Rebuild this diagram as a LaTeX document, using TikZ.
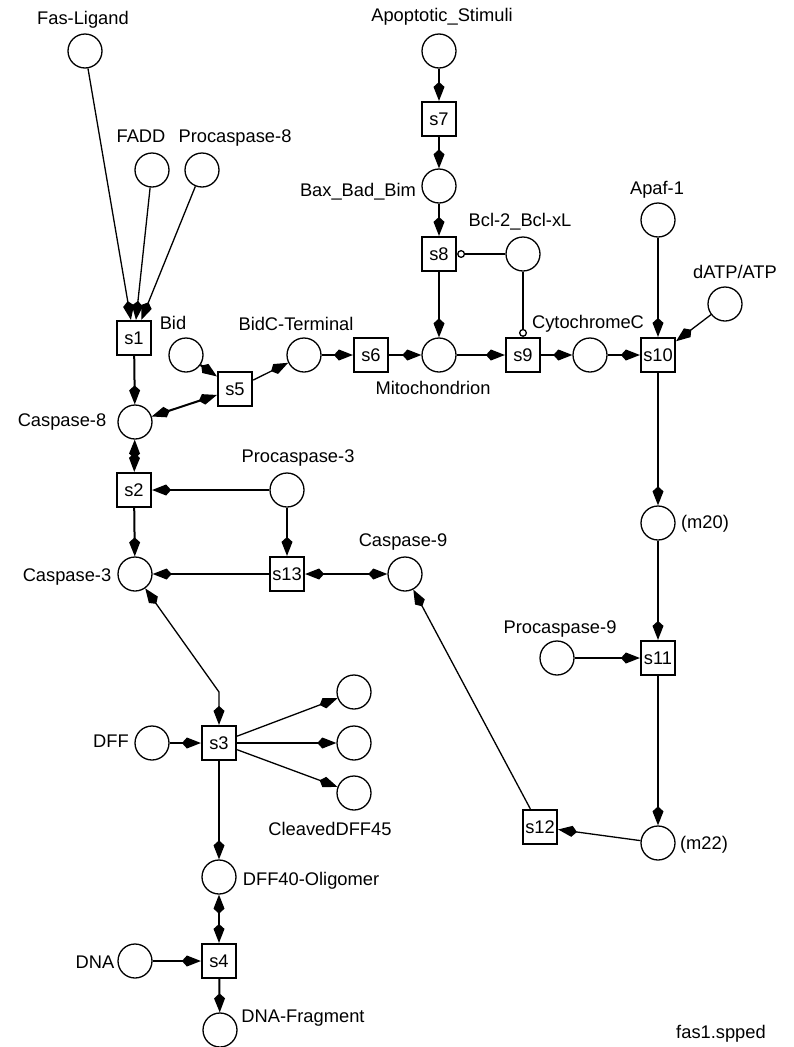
\documentclass[tikz,border=0pt]{standalone}
\usepackage{fontspec}
\setmainfont{Liberation Sans}
\usetikzlibrary{arrows.meta}
\begin{document}
\begin{tikzpicture}[x=1pt,y=-1pt,
 font=\fontsize{18.3}{21}\selectfont,
 place/.style={circle,draw,line width=1.3pt,minimum size=34pt,inner sep=0pt},
 trans/.style={rectangle,draw,line width=2.2pt,minimum size=34pt,inner sep=0pt},
 lbl/.style={inner sep=0pt,anchor=base},
 tk/.style={line width=2pt},
 tn/.style={line width=1.3pt},
 tip/.tip={Kite[length=19pt,width=11pt,inset=5pt]},
 arr/.style={-tip},
 barr/.style={tip-tip},
 inh/.style={line width=1.8pt,-{Circle[open,length=8pt,width=8pt,line width=1.3pt]}},
]
\useasboundingbox (0,0) rectangle (794,1047);

% places
\node[place] (fasl) at (85,51) {};
\node[place] (fadd) at (152,170) {};
\node[place] (pc8) at (202,170) {};
\node[place] (bid) at (186,355) {};
\node[place] (bidc) at (304,355) {};
\node[place] (mito) at (439,355) {};
\node[place] (cytc) at (590,355) {};
\node[place] (apaf) at (658,220) {};
\node[place] (datp) at (725,304) {};
\node[place] (apst) at (439,51) {};
\node[place] (bax) at (439,186) {};
\node[place] (bcl) at (523,254) {};
\node[place] (c8) at (135,422) {};
\node[place] (pc3) at (287,490) {};
\node[place] (c3) at (135,574) {};
\node[place] (c9) at (405,574) {};
\node[place] (dff) at (152,743) {};
\node[place] (o1) at (354,692) {};
\node[place] (o2) at (354,743) {};
\node[place] (o3) at (354,793) {};
\node[place] (dff40) at (219,877) {};
\node[place] (dna) at (135,961) {};
\node[place] (dnaf) at (220,1030) {};
\node[place] (m20) at (658,523) {};
\node[place] (pc9) at (557,658) {};
\node[place] (m22) at (658,843) {};

% transitions
\node[trans] (s1) at (134,338) {s1};
\node[trans] (s2) at (134,490) {s2};
\node[trans] (s3) at (219,743) {s3};
\node[trans] (s4) at (219,961) {s4};
\node[trans] (s5) at (235,389) {s5};
\node[trans] (s6) at (371,355) {s6};
\node[trans] (s7) at (439,119) {s7};
\node[trans] (s8) at (439,254) {s8};
\node[trans] (s9) at (523,355) {s9};
\node[trans] (s10) at (658,355) {s10};
\node[trans] (s11) at (658,658) {s11};
\node[trans] (s12) at (540,827) {s12};
\node[trans] (s13) at (287,574) {s13};
\coordinate (bend) at (219,692);

% labels
\node[lbl] (tfasl) at (83,24) {Fas-Ligand};
\node[lbl] (tfadd) at (141,142) {FADD};
\node[lbl] (tpc8) at (235,142) {Procaspase-8};
\node[lbl] (tapst) at (442,21) {Apoptotic\_Stimuli};
\node[lbl] (tbax) at (358,196) {Bax\_Bad\_Bim};
\node[lbl] (tbcl) at (520,226) {Bcl-2\_Bcl-xL};
\node[lbl] (tapaf) at (657,194) {Apaf-1};
\node[lbl] (tdatp) at (735,278) {dATP/ATP};
\node[lbl] (tbid) at (173,329) {Bid};
\node[lbl] (tbidc) at (296,330) {BidC-Terminal};
\node[lbl] (tmito) at (433,394) {Mitochondrion};
\node[lbl] (tcytc) at (588,328) {CytochromeC};
\node[lbl] (tc8) at (62,426) {Caspase-8};
\node[lbl] (tpc3) at (298,462) {Procaspase-3};
\node[lbl] (tc3) at (67,581) {Caspase-3};
\node[lbl] (tc9) at (403,546) {Caspase-9};
\node[lbl] (tdff) at (111,747) {DFF};
\node[lbl] (tcl) at (330,835) {CleavedDFF45};
\node[lbl] (tdff40) at (311,885) {DFF40-Oligomer};
\node[lbl] (tdna) at (95,968) {DNA};
\node[lbl] (tdnaf) at (303,1022) {DNA-Fragment};
\node[lbl] (tm20) at (705,528) {(m20)};
\node[lbl] (tpc9) at (560,633) {Procaspase-9};
\node[lbl] (tm22) at (704,849) {(m22)};
\node[lbl] (tfile) at (721,1038) {fas1.spped};

% arcs
\draw[tn,arr] (fasl) -- (s1);
\draw[tn,arr] (fadd) -- (s1);
\draw[tn,arr] (pc8) -- (s1);
\draw[tk,arr] (s1) -- (c8);
\draw[tk,arr] (bid) -- (s5);
\draw[tk,barr] (c8) -- (s5);
\draw[tn,arr] (s5) -- (bidc);
\draw[tk,arr] (bidc) -- (s6);
\draw[tk,arr] (s6) -- (mito);
\draw[tk,arr] (apst) -- (s7);
\draw[tk,arr] (s7) -- (bax);
\draw[tk,arr] (bax) -- (s8);
\draw[tk,arr] (s8) -- (mito);
\draw[inh] (bcl) -- (s8);
\draw[inh] (bcl) -- (s9);
\draw[tk,arr] (mito) -- (s9);
\draw[tk,arr] (s9) -- (cytc);
\draw[tk,arr] (cytc) -- (s10);
\draw[tk,arr] (apaf) -- (s10);
\draw[tn,arr] (datp) -- (s10);
\draw[tk,arr] (s10) -- (m20);
\draw[tk,arr] (m20) -- (s11);
\draw[tk,arr] (pc9) -- (s11);
\draw[tk,arr] (s11) -- (m22);
\draw[tn,arr] (m22) -- (s12);
\draw[tn,arr] (s12) -- (c9);
\draw[tk,barr] (c8) -- (s2);
\draw[tk,arr] (pc3) -- (s2);
\draw[tk,arr] (s2) -- (c3);
\draw[tk,arr] (pc3) -- (s13);
\draw[tk,arr] (s13) -- (c3);
\draw[tk,barr] (s13) -- (c9);
\draw[tn,barr] (c3) -- (bend) -- (s3);
\draw[tk,arr] (dff) -- (s3);
\draw[tn,arr] (s3) -- (o1);
\draw[tn,arr] (s3) -- (o2);
\draw[tn,arr] (s3) -- (o3);
\draw[tk,arr] (s3) -- (dff40);
\draw[tk,barr] (dff40) -- (s4);
\draw[tk,arr] (dna) -- (s4);
\draw[tk,arr] (s4) -- (dnaf);
\end{tikzpicture}
\end{document}
